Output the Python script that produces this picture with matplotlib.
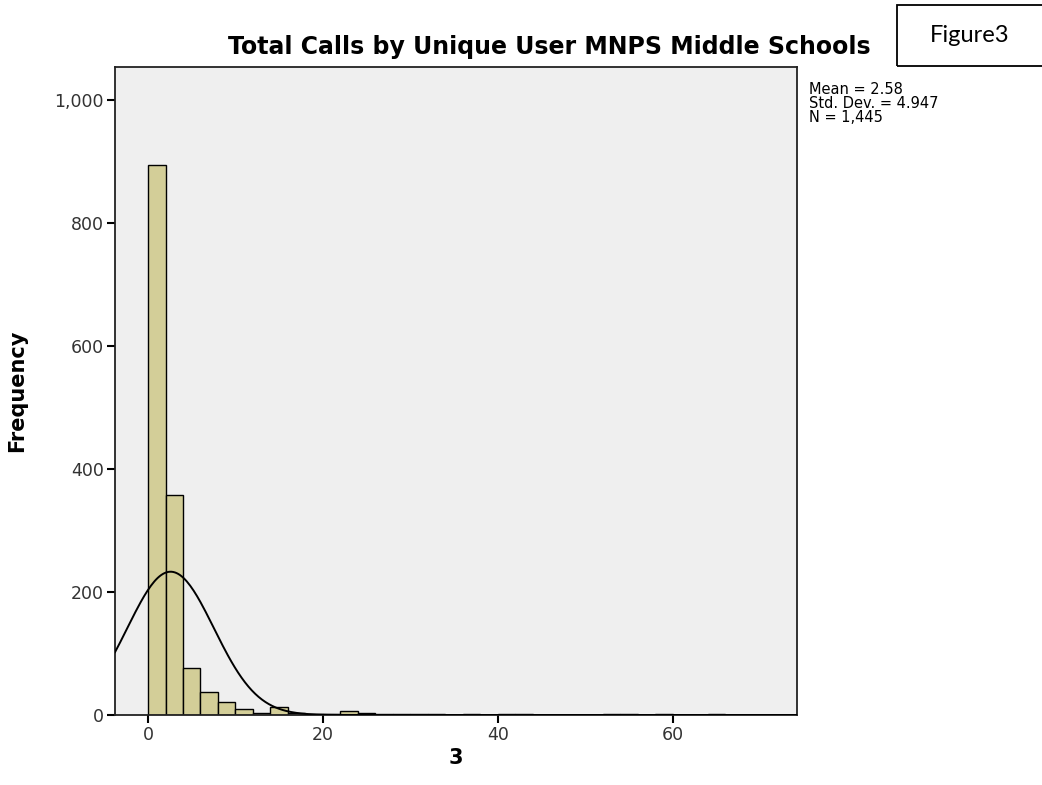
import numpy as np
import matplotlib
matplotlib.use('Agg')
import matplotlib.pyplot as plt
from matplotlib.patches import Rectangle

# histogram bins (left edge, width 2) and counts
bin_left = [0, 2, 4, 6, 8, 10, 12, 14, 16, 18, 20, 22, 24, 26, 28, 30, 32,
            36, 40, 42, 52, 54, 58, 64]
counts = [895, 358, 77, 37, 21, 10, 4, 13, 3, 2, 2, 7, 3, 1, 1, 1, 2,
          1, 1, 1, 1, 1, 1, 1]
bin_w = 2

# summary stats printed on the chart
mean = 2.58
std = 4.947
n = 1445

title = 'Total Calls by Unique User MNPS Middle Schools'
yticks = [0, 200, 400, 600, 800, 1000]
xticks = [0, 20, 40, 60]

fig = plt.figure(figsize=(10.42, 7.85), dpi=100)
ax = fig.add_axes([0.1104, 0.0892, 0.6545, 0.8254])
ax.set_facecolor('#efefef')

ax.bar(bin_left, counts, width=bin_w, align='edge', color='#d3ce98',
       edgecolor='black', linewidth=1.0, zorder=2)

# normal curve from the stated mean / sd, scaled to the counts
xlim = (-3.77, 74.2)
xs = np.linspace(xlim[0], xlim[1], 400)
ys = n * bin_w / (std * np.sqrt(2 * np.pi)) * np.exp(-0.5 * ((xs - mean) / std) ** 2)
ax.plot(xs, ys, color='black', lw=1.4, zorder=3)

ax.set_xlim(xlim)
ax.set_ylim(0, 1054)
ax.set_yticks(yticks)
ax.set_yticklabels(['{:,}'.format(v) for v in yticks])
ax.set_xticks(xticks)
ax.tick_params(direction='out', length=6, width=1.5, labelsize=12.5,
               labelcolor='#333333', pad=2)
for s in ax.spines.values():
    s.set_linewidth(1.3)
    s.set_color('#222222')

ax.set_ylabel('Frequency', fontsize=15, fontweight='bold', labelpad=20)
ax.set_xlabel('3', fontsize=15, fontweight='bold', labelpad=3)
fig.text(0.527, 0.94, title, ha='center', va='center', fontsize=17,
         fontweight='bold')

fig.text(0.776, 0.896, 'Mean = 2.58\nStd. Dev. = 4.947\nN = 1,445',
         ha='left', va='top', fontsize=10.5, linespacing=0.92)

# the "Figure3" box in the top-right corner
fig.patches.append(Rectangle((0.861, 0.916), 0.145, 0.078,
                             transform=fig.transFigure, fill=False,
                             edgecolor='black', lw=1.3))
fig.text(0.931, 0.955, 'Figure3', ha='center', va='center', fontsize=17,
         family='Lato')

fig.savefig('out.png')
plt.close()
